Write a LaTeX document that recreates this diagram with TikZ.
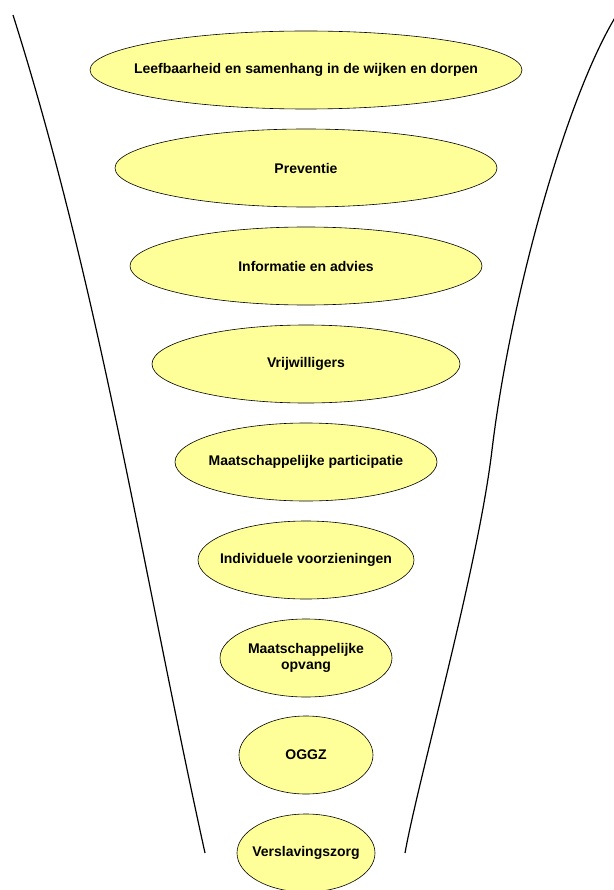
\documentclass[tikz,border=0pt]{standalone}
\usepackage{fontspec}
\setmainfont{Liberation Sans}
\definecolor{lvlfill}{HTML}{FFFF99}

\begin{document}
\begin{tikzpicture}[x=1pt,y=-1pt,every text node part/.style={align=center},
  lvl/.style={draw=black,line width=0.6pt,fill=lvlfill},
  lbl/.style={font=\fontsize{14}{16.5}\selectfont\bfseries},
  side/.style={line width=1.2pt}]
  \useasboundingbox (0,0) rectangle (613,890);

  % funnel
  \draw[side] (13,15) .. controls (100,290) and (143,572) .. (205,853);
  \draw[side] (616,16) .. controls (565,100) and (510,300) .. (492,450)
    .. controls (477.6,570) and (418,780) .. (405,853);

  \filldraw[lvl] (306,70) ellipse (216 and 39);
  \filldraw[lvl] (306,168) ellipse (191 and 39);
  \filldraw[lvl] (306,266) ellipse (176 and 39);
  \filldraw[lvl] (306,364) ellipse (154 and 39);
  \filldraw[lvl] (306,462) ellipse (131 and 39);
  \filldraw[lvl] (306,560) ellipse (108 and 39);
  \filldraw[lvl] (306,658) ellipse (86 and 39);
  \filldraw[lvl] (306,755) ellipse (67 and 39);
  \filldraw[lvl] (306,853) ellipse (69 and 39);

  \node[lbl] (leef) at (306,70) {Leefbaarheid en samenhang in de wijken en dorpen};
  \node[lbl] (prev) at (306,168) {Preventie};
  \node[lbl] (info) at (306,266) {Informatie en advies};
  \node[lbl] (vrij) at (306,364) {Vrijwilligers};
  \node[lbl] (part) at (306,462) {Maatschappelijke participatie};
  \node[lbl] (indiv) at (306,560) {Individuele voorzieningen};
  \node[lbl] (opv) at (306,658) {Maatschappelijke\\ opvang};
  \node[lbl] (oggz) at (306,755) {OGGZ};
  \node[lbl] (versl) at (306,853) {Verslavingszorg};
\end{tikzpicture}
\end{document}
